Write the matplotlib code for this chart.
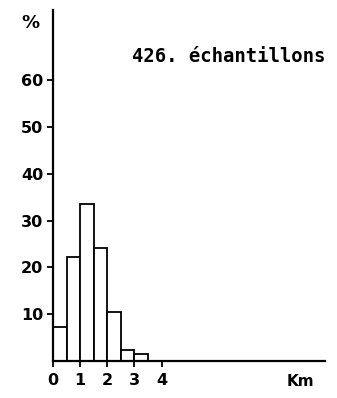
import matplotlib.pyplot as plt
import numpy as np

# histogram of distances (classes of 0.5 km)
bin_left = [0.0, 0.5, 1.0, 1.5, 2.0, 2.5, 3.0]
pct = [7.3, 22.2, 33.5, 24.1, 10.5, 2.3, 1.5]
bin_width = 0.5

yticks = [10, 20, 30, 40, 50, 60]
xticks = [0, 1, 2, 3, 4]

plt.rcParams['font.family'] = 'DejaVu Sans'
plt.rcParams['font.weight'] = 'bold'

fig = plt.figure(figsize=[3.37, 3.98], dpi=100)
ax = fig.add_axes([0.157, 0.093, 0.807, 0.882])

ax.bar(bin_left, pct, width=bin_width, align='edge',
       facecolor='white', edgecolor='black', linewidth=1.3)

ax.set_xlim(0, 10)
ax.set_ylim(0, 75)
ax.spines['top'].set_visible(False)
ax.spines['right'].set_visible(False)
for s in ['left', 'bottom']:
    ax.spines[s].set_linewidth(1.6)

ax.set_yticks(yticks)
ax.set_xticks(xticks)
ax.tick_params(axis='both', length=4, width=1.3, labelsize=11.5)
ax.tick_params(axis='x', pad=5)
ax.tick_params(axis='y', pad=3)

ax.text(-0.81, 72.2, '%', ha='center', va='center', fontsize=13)
ax.text(6.48, 65, '426. échantillons', ha='center', va='center',
        fontsize=13.6, family='DejaVu Sans Mono')
ax.text(9.1, -4.3, 'Km', ha='center', va='center', fontsize=11, clip_on=False)

plt.savefig('out.png', dpi=100)
plt.close(fig)
